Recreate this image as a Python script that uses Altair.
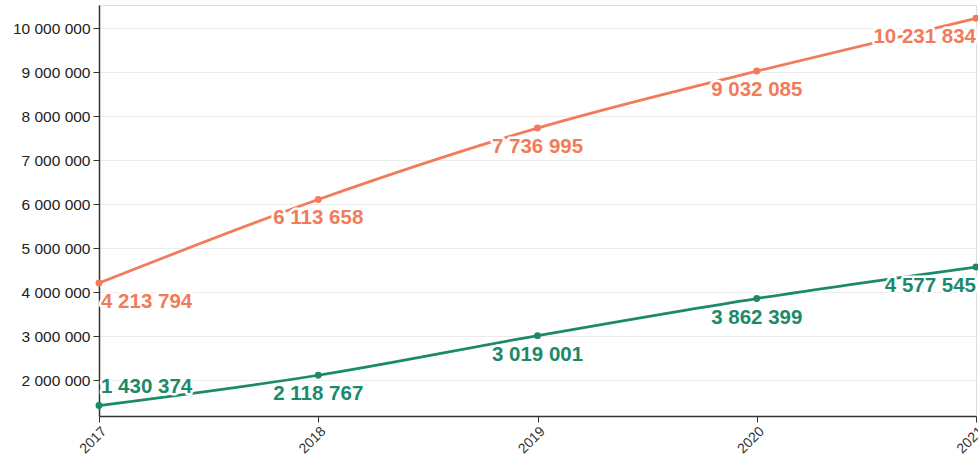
import altair as alt
import pandas as pd

# Yearly totals for the two series
years = ["2017", "2018", "2019", "2020", "2021"]
upper_values = [4213794, 6113658, 7736995, 9032085, 10231834]
lower_values = [1430374, 2118767, 3019001, 3862399, 4577545]
y_ticks = [2000000, 3000000, 4000000, 5000000, 6000000, 7000000, 8000000, 9000000, 10000000]

ORANGE = "#f27b5a"
GREEN = "#1c8a6a"

rows = []
for name, vals in (("upper", upper_values), ("lower", lower_values)):
    for yr, v in zip(years, vals):
        rows.append({"series": name, "year": yr, "value": v})
df = pd.DataFrame(rows)

color = alt.Color(
    "series:N",
    scale=alt.Scale(domain=["upper", "lower"], range=[ORANGE, GREEN]),
    legend=None,
)
x = alt.X(
    "year:O",
    scale=alt.Scale(type="point", padding=0),
    axis=alt.Axis(
        title=None,
        labelAngle=-45,
        labelFontSize=14,
        labelColor="#333",
        labelFont="Liberation Sans",
        domainColor="#333",
        domainWidth=1.5,
        tickColor="#333",
        tickSize=6,
        grid=False,
        labelPadding=2,
    ),
)
y = alt.Y(
    "value:Q",
    scale=alt.Scale(domain=[1193000, 10534000], nice=False, zero=False),
    axis=alt.Axis(
        title=None,
        values=y_ticks,
        format=",d",
        labelFontSize=15.5,
        labelColor="#222",
        labelFont="Liberation Sans",
        domainColor="#333",
        domainWidth=1.5,
        tickColor="#333",
        tickSize=6,
        gridColor="#ececec",
        gridWidth=1,
        labelPadding=3,
    ),
)

base = alt.Chart(df).encode(x=x, y=y, color=color)

line = base.mark_line(interpolate="monotone", strokeWidth=2.75)
points = base.mark_point(filled=True, size=48, opacity=1)

first_year = years[0]
last_year = years[-1]


def labels(filter_expr, align, dx, dy):
    text_base = alt.Chart(df).transform_filter(filter_expr).encode(
        x=x, y=y, text=alt.Text("value:Q", format=",d")
    )
    kw = dict(align=align, baseline="middle", dx=dx, dy=dy, fontSize=20.5,
              fontWeight="bold", font="Liberation Sans")
    halo = text_base.mark_text(stroke="white", strokeWidth=5, fill="white",
                               strokeJoin="round", **kw)
    txt = text_base.mark_text(**kw).encode(color=color)
    return [halo, txt]


layers = [line, points]
layers += labels(f"datum.year != '{first_year}' && datum.year != '{last_year}'", "center", 0, 19)
layers += labels(f"datum.year == '{first_year}' && datum.series == 'upper'", "left", 2, 19)
layers += labels(f"datum.year == '{first_year}' && datum.series == 'lower'", "left", 2, -19)
layers += labels(f"datum.year == '{last_year}'", "right", 0, 19)

chart = (
    alt.layer(*layers)
    .properties(
        width=877,
        height=411,
        autosize=alt.AutoSizeParams(type="none"),
        padding={"left": 99, "top": 5, "right": 2, "bottom": 45},
        background="white",
    )
    .configure_view(stroke=None)
    .configure(locale={"number": {"decimal": ",", "thousands": "\u00a0",
                                  "grouping": [3], "currency": ["", " €"]}})
)

chart.save("out.html", embed_options={"renderer": "svg", "actions": False})
